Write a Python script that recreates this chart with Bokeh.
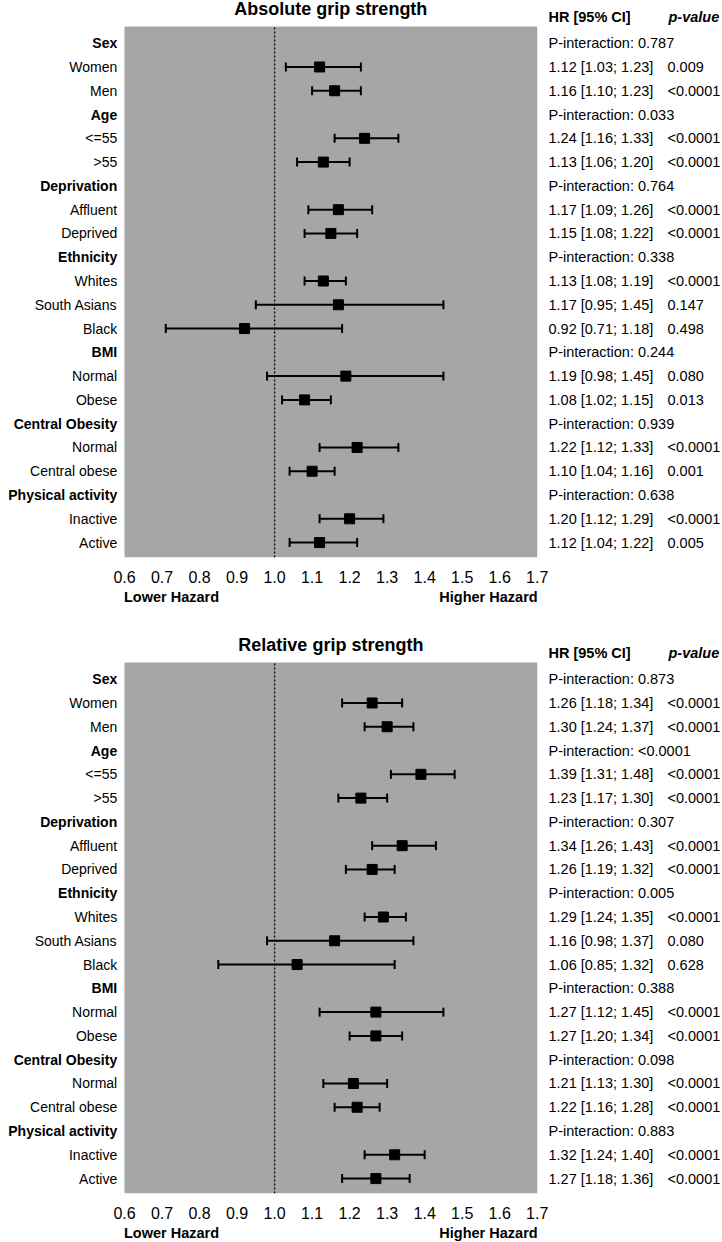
from bokeh.plotting import figure
from bokeh.models import Range1d, FixedTicker, LinearAxis, NumeralTickFormatter, ColumnDataSource
from bokeh.layouts import column
from bokeh.embed import file_html
from bokeh.resources import INLINE
from bokeh.core.properties import value

# ---------------- data ----------------
GROUPS = ["Sex", "Age", "Deprivation", "Ethnicity", "BMI", "Central Obesity", "Physical activity"]
SUBGROUPS = [["Women", "Men"], ["<=55", ">55"], ["Affluent", "Deprived"],
             ["Whites", "South Asians", "Black"], ["Normal", "Obese"],
             ["Normal", "Central obese"], ["Inactive", "Active"]]
X_TICKS = [0.6, 0.7, 0.8, 0.9, 1.0, 1.1, 1.2, 1.3, 1.4, 1.5, 1.6, 1.7]

ABS_TITLE = "Absolute grip strength"
abs_hr = [1.12, 1.16, 1.24, 1.13, 1.17, 1.15, 1.13, 1.17, 0.92, 1.19, 1.08, 1.22, 1.10, 1.20, 1.12]
abs_lo = [1.03, 1.10, 1.16, 1.06, 1.09, 1.08, 1.08, 0.95, 0.71, 0.98, 1.02, 1.12, 1.04, 1.12, 1.04]
abs_hi = [1.23, 1.23, 1.33, 1.20, 1.26, 1.22, 1.19, 1.45, 1.18, 1.45, 1.15, 1.33, 1.16, 1.29, 1.22]
abs_p = ["0.009", "<0.0001", "<0.0001", "<0.0001", "<0.0001", "<0.0001", "<0.0001", "0.147",
         "0.498", "0.080", "0.013", "<0.0001", "0.001", "<0.0001", "0.005"]
abs_pint = ["0.787", "0.033", "0.764", "0.338", "0.244", "0.939", "0.638"]

REL_TITLE = "Relative grip strength"
rel_hr = [1.26, 1.30, 1.39, 1.23, 1.34, 1.26, 1.29, 1.16, 1.06, 1.27, 1.27, 1.21, 1.22, 1.32, 1.27]
rel_lo = [1.18, 1.24, 1.31, 1.17, 1.26, 1.19, 1.24, 0.98, 0.85, 1.12, 1.20, 1.13, 1.16, 1.24, 1.18]
rel_hi = [1.34, 1.37, 1.48, 1.30, 1.43, 1.32, 1.35, 1.37, 1.32, 1.45, 1.34, 1.30, 1.28, 1.40, 1.36]
rel_p = ["<0.0001", "<0.0001", "<0.0001", "<0.0001", "<0.0001", "<0.0001", "<0.0001", "0.080",
         "0.628", "<0.0001", "<0.0001", "<0.0001", "<0.0001", "<0.0001", "<0.0001"]
rel_pint = ["0.873", "<0.0001", "0.307", "0.005", "0.388", "0.098", "0.883"]

# ---------------- layout constants ----------------
FONT = "Liberation Sans"
FRAME_W = 720
PX = 375.2          # pixels per HR unit
ROW = 23.78         # pixels per row
GRAY_LEFT = 124     # px from frame left where 0.6 sits
X0 = 0.6 - GRAY_LEFT / PX


def xd(px):
    return X0 + px / PX


def make_panel(title, hr, lo, hi, pvals, pint, bottom_border, pad):
    # pad: extra pixels above the panel's content inside the frame
    first_row = 42.7 + pad
    gray_top_px = 26 + pad
    frame_h = 557 + pad
    y_top = first_row / ROW

    def yd(py):
        return y_top - py / ROW

    p = figure(frame_width=FRAME_W, frame_height=frame_h, output_backend="svg",
               toolbar_location=None, y_axis_location=None,
               min_border_left=0, min_border_right=0, min_border_top=0,
               min_border_bottom=bottom_border)
    p.x_range = Range1d(X0, X0 + FRAME_W / PX)
    p.y_range = Range1d(yd(frame_h), y_top)
    p.xgrid.visible = False
    p.ygrid.visible = False
    p.outline_line_color = None
    p.background_fill_color = "white"
    p.border_fill_color = "white"

    # row bookkeeping
    head_y, head_txt, pint_txt = [], [], []
    sub_y, sub_txt = [], []
    r = 0
    for g, subs, pi in zip(GROUPS, SUBGROUPS, pint):
        head_y.append(-r)
        head_txt.append(g)
        pint_txt.append("P-interaction: " + pi)
        r += 1
        for s in subs:
            sub_y.append(-r)
            sub_txt.append(s)
            r += 1

    gray_top = yd(gray_top_px)
    gray_bot = yd(frame_h)
    p.quad(left=[0.6], right=[1.7], top=[gray_top], bottom=[gray_bot],
           fill_color="#a6a6a6", line_color=None)
    p.segment(x0=[1.0], x1=[1.0], y0=[gray_bot], y1=[gray_top],
              line_color="black", line_width=1.3, line_dash="2 2")

    cap = 4.5 / ROW
    src = ColumnDataSource(dict(y=sub_y, hr=hr, lo=lo, hi=hi,
                                yl=[v - cap for v in sub_y], yh=[v + cap for v in sub_y]))
    p.segment(x0="lo", x1="hi", y0="y", y1="y", source=src, line_color="black", line_width=2)
    p.segment(x0="lo", x1="lo", y0="yl", y1="yh", source=src, line_color="black", line_width=2)
    p.segment(x0="hi", x1="hi", y0="yl", y1="yh", source=src, line_color="black", line_width=2)
    p.scatter(x="hr", y="y", source=src, marker="square", size=10,
              fill_color="black", line_color="black")

    lab_x = xd(116.7)
    p.text(x=[lab_x] * len(head_y), y=head_y, text=head_txt, text_align="right",
           text_baseline="middle", text_font=value(FONT), text_font_size="14px",
           text_font_style="bold", text_color="black")
    p.text(x=[lab_x] * len(sub_y), y=sub_y, text=sub_txt, text_align="right",
           text_baseline="middle", text_font=value(FONT), text_font_size="14px",
           text_color="black")

    hr_x = xd(548)
    p_x = xd(667)
    hr_txt = ["%.2f [%.2f; %.2f]" % (a, b, c) for a, b, c in zip(hr, lo, hi)]
    p.text(x=[hr_x] * len(head_y), y=head_y, text=pint_txt, text_align="left",
           text_baseline="middle", text_font=value(FONT), text_font_size="14.5px",
           text_color="black")
    p.text(x=[hr_x] * len(sub_y), y=sub_y, text=hr_txt, text_align="left",
           text_baseline="middle", text_font=value(FONT), text_font_size="14.5px",
           text_color="black")
    p.text(x=[p_x] * len(sub_y), y=sub_y, text=pvals, text_align="left",
           text_baseline="middle", text_font=value(FONT), text_font_size="14.5px",
           text_color="black")

    hdr_y = yd(16.7 + pad)
    p.text(x=[hr_x], y=[hdr_y], text=["HR [95% CI]"], text_align="left",
           text_baseline="middle", text_font=value(FONT), text_font_size="14.5px",
           text_font_style="bold", text_color="black")
    p.text(x=[xd(668)], y=[hdr_y], text=["p-value"], text_align="left",
           text_baseline="middle", text_font=value(FONT), text_font_size="14.5px",
           text_font_style="bold italic", text_color="black")
    p.text(x=[(0.6 + 1.7) / 2], y=[yd(8 + pad)], text=[title], text_align="center",
           text_baseline="middle", text_font=value(FONT), text_font_size="18px",
           text_font_style="bold", text_color="black")

    ax = p.xaxis[0]
    ax.ticker = FixedTicker(ticks=X_TICKS)
    ax.formatter = NumeralTickFormatter(format="0.0")
    ax.axis_line_color = None
    ax.major_tick_line_color = None
    ax.minor_tick_line_color = None
    ax.major_tick_out = 0
    ax.major_tick_in = 0
    ax.minor_tick_out = 0
    ax.major_label_standoff = 13
    ax.major_label_text_font = FONT
    ax.major_label_text_font_size = "16px"
    ax.major_label_text_color = "black"

    lo_c = 0.6 + 47 / PX
    hi_c = 0.6 + 364 / PX
    ax2 = LinearAxis(ticker=FixedTicker(ticks=[lo_c, hi_c]),
                     major_label_overrides={lo_c: "Lower Hazard", hi_c: "Higher Hazard"})
    ax2.axis_line_color = None
    ax2.major_tick_line_color = None
    ax2.minor_tick_line_color = None
    ax2.major_tick_out = 0
    ax2.major_tick_in = 0
    ax2.minor_tick_out = 0
    ax2.major_label_standoff = 3
    ax2.major_label_text_font = FONT
    ax2.major_label_text_font_size = "14.5px"
    ax2.major_label_text_font_style = "bold"
    ax2.major_label_text_color = "black"
    p.add_layout(ax2, "below")
    return p


p1 = make_panel(ABS_TITLE, abs_hr, abs_lo, abs_hi, abs_p, abs_pint, 75, 0)
p2 = make_panel(REL_TITLE, rel_hr, rel_lo, rel_hi, rel_p, rel_pint, 44, 4)
layout = column(p1, p2, spacing=0)

open("out.html", "w").write(file_html(layout, INLINE))
